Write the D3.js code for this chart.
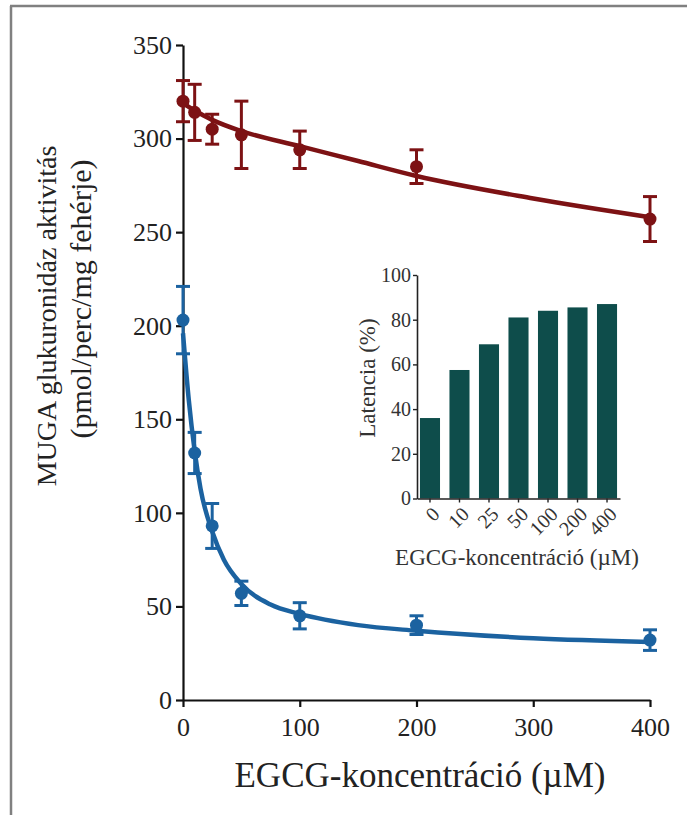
<!DOCTYPE html>
<html><head><meta charset="utf-8">
<script src="https://cdn.jsdelivr.net/npm/d3@7"></script>
<style>body{margin:0;background:#fff}svg{display:block;font-family:"Liberation Serif","Times New Roman",serif}
svg text{font-family:"Liberation Serif","Times New Roman",serif !important}</style>
</head><body><svg id="c" width="687" height="815"></svg>
<script>
// ---- data ----
const concentrations = [0, 10, 25, 50, 100, 200, 400];
const redMean = [320, 314, 305, 302, 294, 285, 257];
const redErr  = [11, 15, 8, 18, 10, 9, 12];
const blueMean = [203, 132, 93, 57, 45, 40, 32];
const blueErr  = [18, 11, 12, 6.5, 7, 5, 5.5];
const redCurveX = [0, 10, 25, 50, 100, 150, 200, 300, 400];
const redCurveY = [319, 315, 310, 304, 296, 288, 280, 268, 258];
const blueCurveX = [0, 5, 10, 15, 25, 35, 50, 75, 100, 150, 200, 300, 400];
const blueCurveY = [196, 160, 133, 113, 90, 75, 62, 51, 46, 40, 37, 33, 31];
const xTicks = [0, 100, 200, 300, 400];
const yTicks = [0, 50, 100, 150, 200, 250, 300, 350];
const insetCategories = ["0", "10", "25", "50", "100", "200", "400"];
const insetLatency = [36, 57.5, 69, 81, 84, 85.5, 87];
const insetTicks = [0, 20, 40, 60, 80, 100];

const RED = "#7d1214", BLUE = "#1b62a0", TEAL = "#0e4d4b";
const SERIF = '"Liberation Serif","Times New Roman",serif';

const svg = d3.select("#c");

// frame lines (left and top)
svg.append("line").attr("x1", 11).attr("x2", 11).attr("y1", 6).attr("y2", 815)
  .attr("stroke", "#808080").attr("stroke-width", 2.5);
svg.append("line").attr("x1", 10).attr("x2", 687).attr("y1", 6).attr("y2", 6)
  .attr("stroke", "#808080").attr("stroke-width", 2.5);

// ---- main chart ----
const x = d3.scaleLinear().domain([0, 400]).range([183, 650]);
const y = d3.scaleLinear().domain([0, 350]).range([700, 45]);

const gy = svg.append("g").attr("transform", `translate(${x(0)},0)`)
  .call(d3.axisLeft(y).tickValues(yTicks).tickSize(7).tickSizeOuter(0).tickPadding(4));
const gx = svg.append("g").attr("transform", `translate(0,${y(0)})`)
  .call(d3.axisBottom(x).tickValues(xTicks).tickSize(7).tickSizeOuter(0).tickPadding(11));
[gy, gx].forEach(g => {
  g.attr("font-family", SERIF).attr("font-size", 26);
  g.select(".domain").attr("stroke", "#111").attr("stroke-width", 2.2);
  g.selectAll(".tick line").attr("stroke", "#111").attr("stroke-width", 2.2);
  g.selectAll(".tick text").attr("fill", "#222");
});

function drawSeries(meanArr, errArr, cx, cy, color) {
  const line = d3.line().x(d => x(d[0])).y(d => y(d[1])).curve(d3.curveMonotoneX);
  svg.append("path").datum(cx.map((v, i) => [v, cy[i]]))
    .attr("d", line).attr("fill", "none").attr("stroke", color).attr("stroke-width", 4.5);
  const g = svg.append("g");
  concentrations.forEach((c, i) => {
    const px = x(c), top = y(meanArr[i] + errArr[i]), bot = y(meanArr[i] - errArr[i]);
    g.append("line").attr("x1", px).attr("x2", px).attr("y1", top).attr("y2", bot)
      .attr("stroke", color).attr("stroke-width", 3);
    [top, bot].forEach(yy => g.append("line").attr("x1", px - 7).attr("x2", px + 7)
      .attr("y1", yy).attr("y2", yy).attr("stroke", color).attr("stroke-width", 3));
    g.append("circle").attr("cx", px).attr("cy", y(meanArr[i])).attr("r", 6.5).attr("fill", color);
  });
}
drawSeries(redMean, redErr, redCurveX, redCurveY, RED);
drawSeries(blueMean, blueErr, blueCurveX, blueCurveY, BLUE);

// axis titles
svg.append("text").attr("x", 420).attr("y", 787).attr("text-anchor", "middle")
  .attr("font-size", 35).attr("fill", "#222").text("EGCG-koncentráció (µM)");
svg.append("text").attr("transform", "translate(56,316) rotate(-90)").attr("text-anchor", "middle")
  .attr("font-size", 28).attr("fill", "#222").text("MUGA glukuronidáz aktivitás");
svg.append("text").attr("transform", "translate(91,299) rotate(-90)").attr("text-anchor", "middle")
  .attr("font-size", 30).attr("fill", "#222").text("(pmol/perc/mg fehérje)");

// ---- inset bar chart ----
const xb = d3.scaleBand().domain(insetCategories).range([417, 620]).paddingInner(0.32).paddingOuter(0.1);
const yb = d3.scaleLinear().domain([0, 100]).range([498.5, 275]);

svg.append("g").selectAll("rect").data(insetCategories).join("rect")
  .attr("x", d => xb(d)).attr("width", xb.bandwidth())
  .attr("y", (d, i) => yb(insetLatency[i])).attr("height", (d, i) => yb(0) - yb(insetLatency[i]))
  .attr("fill", TEAL);

const iy = svg.append("g").attr("transform", `translate(417,0)`)
  .call(d3.axisLeft(yb).tickValues(insetTicks).tickSize(4).tickSizeOuter(0).tickPadding(2));
const ix = svg.append("g").attr("transform", `translate(0,${yb(0)})`)
  .call(d3.axisBottom(xb).tickSize(4).tickSizeOuter(0).tickPadding(3));
[iy, ix].forEach(g => {
  g.attr("font-family", SERIF).attr("font-size", 20);
  g.select(".domain").attr("stroke", "#222").attr("stroke-width", 1.6);
  g.selectAll(".tick line").attr("stroke", "#222").attr("stroke-width", 1.4);
  g.selectAll(".tick text").attr("fill", "#333");
});
ix.selectAll(".tick text").attr("text-anchor", "end").attr("dy", "0.35em")
  .attr("transform", "translate(6,12) rotate(-45)").attr("y", 0).attr("x", 0);

svg.append("text").attr("x", 517).attr("y", 565).attr("text-anchor", "middle")
  .attr("font-size", 23).attr("fill", "#333").text("EGCG-koncentráció (µM)");
svg.append("text").attr("transform", "translate(375,378) rotate(-90)").attr("text-anchor", "middle")
  .attr("font-size", 23).attr("fill", "#333").text("Latencia (%)");
</script>
</body></html>
